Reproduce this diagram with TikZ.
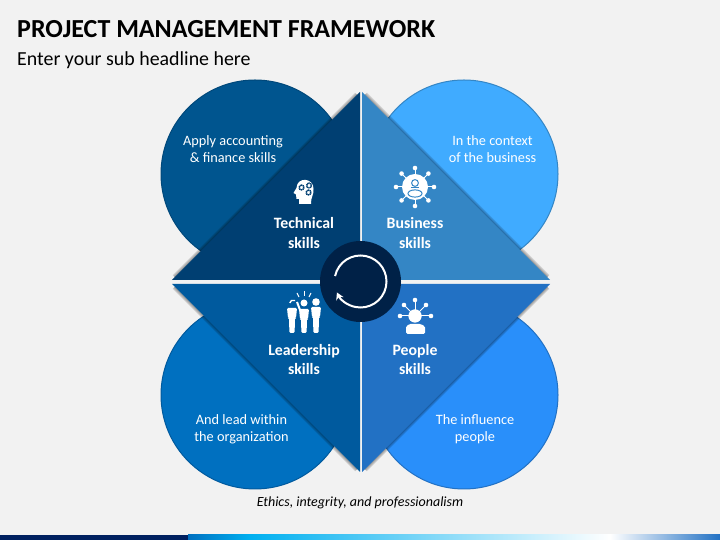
\documentclass[tikz,border=0pt]{standalone}
\usepackage{fontspec}
\setmainfont{Carlito}
\usetikzlibrary{arrows.meta}
\definecolor{pagebg}{HTML}{F2F2F2}
\definecolor{techcirc}{HTML}{00558F}
\definecolor{techtri}{HTML}{003F72}
\definecolor{busicirc}{HTML}{40ABFF}
\definecolor{busitri}{HTML}{3486C5}
\definecolor{leadcirc}{HTML}{0070C0}
\definecolor{leadtri}{HTML}{005A9E}
\definecolor{peopcirc}{HTML}{298FFA}
\definecolor{peoptri}{HTML}{2271C4}
\definecolor{hubcol}{HTML}{002147}
\definecolor{stripdark}{HTML}{002060}
\definecolor{stripsky}{HTML}{00B0F0}
\begin{document}
\begin{tikzpicture}[x=1pt, y=1pt,
    lobe/.style = {circle, minimum size=188pt, inner sep=0pt, line width=1pt},
    note/.style = {text=white, align=center, font=\fontsize{14.3}{16.8}\selectfont},
    skill/.style = {text=white, align=center, font=\fontsize{15.8}{19.5}\selectfont\bfseries},
    glow/.style = {black, shorten >=4pt, shorten <=4pt}]
    \useasboundingbox (0,0) rectangle (720,540);
    \fill[pagebg] (0,0) rectangle (720,540);

    % bottom strip
    \fill[left color=leadcirc, right color=stripsky] (188,0) rectangle (250,5);
    \fill[left color=stripsky, right color=white] (250,0) rectangle (610,5);
    \fill[left color=white, right color=peoptri] (610,0) rectangle (720,5);
    \fill[stripdark] (0,0) rectangle (188,5);

    % titles
    \node[anchor=west, inner sep=0pt, font=\fontsize{26}{30}\selectfont\bfseries] (title) at (17,511) {PROJECT MANAGEMENT FRAMEWORK};
    \node[anchor=west, inner sep=0pt, font=\fontsize{19.9}{23}\selectfont] (subtitle) at (17,480) {Enter your sub headline here};
    \node[font=\fontsize{14}{16}\selectfont\itshape] (ethics) at (360,37) {Ethics, integrity, and professionalism};

    % lobes
    \node[lobe, fill=techcirc, draw=techcirc!85!black] (techlobe) at (255,366) {};
    \node[lobe, fill=busicirc, draw=busitri] (busilobe) at (464,366) {};
    \node[lobe, fill=leadcirc, draw=leadtri] (leadlobe) at (255,145) {};
    \node[lobe, fill=peopcirc, draw=peoptri] (peoplobe) at (464,145) {};

    % triangle corners
    \coordinate (techtip) at (360,448);
    \coordinate (techend) at (172,260);
    \coordinate (busitip) at (362,448);
    \coordinate (busiend) at (550,260);
    \coordinate (leadtip) at (360,68);
    \coordinate (leadend) at (172,256);
    \coordinate (peoptip) at (362,68);
    \coordinate (peopend) at (550,256);

    % soft edge under each long side
    \foreach \a/\b in {techtip/techend, busitip/busiend, leadtip/leadend, peoptip/peopend}
        \foreach \w in {6,4,2}
            \draw[glow, line width=\w pt, opacity=0.13] (\a) -- (\b);

    \fill[techtri] (techend) -- (techtip) -- (360,260) -- cycle;
    \fill[busitri] (busiend) -- (busitip) -- (362,260) -- cycle;
    \fill[leadtri] (leadend) -- (leadtip) -- (360,256) -- cycle;
    \fill[peoptri] (peopend) -- (peoptip) -- (362,256) -- cycle;

    % hub
    \node[circle, fill=hubcol, minimum size=81pt, inner sep=0pt] (hub) at (360.5,258.5) {};
    \draw[white, line width=2pt, -{Stealth[length=7pt, width=8pt]}]
        ([shift={(168:26)}]hub.center) arc[start angle=168, end angle=-155, radius=26];

    % texts
    \node[note] (technote) at (233,391) {Apply accounting\\\& finance skills};
    \node[note] (businote) at (492.5,391) {In the context\\of the business};
    \node[note] (leadnote) at (241.5,111) {And lead within\\the organization};
    \node[note] (peopnote) at (475,111) {The influence\\people};
    \node[skill] (techname) at (304,307) {Technical\\skills};
    \node[skill] (businame) at (415,307) {Business\\skills};
    \node[skill] (leadname) at (304,180.5) {Leadership\\skills};
    \node[skill] (peopname) at (415,180.5) {People\\skills};

    % head with gears
    \fill[white] (299,336) -- (299,341) -- (296.5,341) -- (296,345.5) -- (293.5,347) -- (296.5,352)
        .. controls (297,364) and (314,362) .. (313.5,351)
        .. controls (314,345) and (311,344) .. (311,336) -- cycle;
    \foreach \gx/\gy in {301.5/352.5, 309/354.5, 308.5/347.5}
        \draw[techtri, line width=1.5pt, dash pattern=on 1pt off .5pt] (\gx,\gy) circle (2.4);

    % person in a ring of dots
    \fill[white] (415,353) circle (13);
    \foreach \ang in {0,45,...,315} {
        \draw[white, line width=1pt] (415,353) -- ++(\ang:19);
        \fill[white] (415,353) ++(\ang:19) circle (2.3);
    }
    \draw[busitri, line width=1pt] (415,357) circle (3.4);
    \draw[busitri, line width=1pt] (415,346.5) ellipse (7 and 3.6);
    \draw[busitri, line width=1pt] (411,352) -- (419,352);

    % three standing figures
    \foreach \cx/\top in {292/232, 304/231, 316/233}
        \fill[white, rounded corners=1.2pt] (\cx-5,\top) -- (\cx+5,\top) -- (\cx+4,\top-10) -- (\cx+3,\top-10)
            -- (\cx+2.6,207) -- (\cx-2.6,207) -- (\cx-3,\top-10) -- (\cx-4,\top-10) -- cycle;
    \fill[white] (304,237) circle (3.5);
    \fill[white] (316,238) circle (3.8);
    \draw[white, line width=1.4pt] (295,239.5) arc[start angle=60, end angle=170, radius=3.5];
    \draw[white, line width=2pt] (300,230) -- (297,238);
    \draw[white, line width=1pt] (304,244) -- (304,249);
    \draw[white, line width=1pt] (299,243) -- (297,247);
    \draw[white, line width=1pt] (309,243) -- (311,247);

    % person with contacts
    \fill[white] (415,224) circle (6.5);
    \fill[white, rounded corners=1.5pt] (406,206) -- (406,211) .. controls (406,214) and (409,216) .. (412,216)
        -- (418,216) .. controls (422,216) and (425,214) .. (425,211) -- (425,206) -- cycle;
    \foreach \sx/\sy in {415/240, 404/235, 426/235, 400/224, 431/224} {
        \draw[white, line width=1pt] (415,224) -- (\sx,\sy);
        \fill[white] (\sx,\sy) circle (2.3);
    }
    \fill[white] (415,224) circle (6.5);
\end{tikzpicture}
\end{document}
